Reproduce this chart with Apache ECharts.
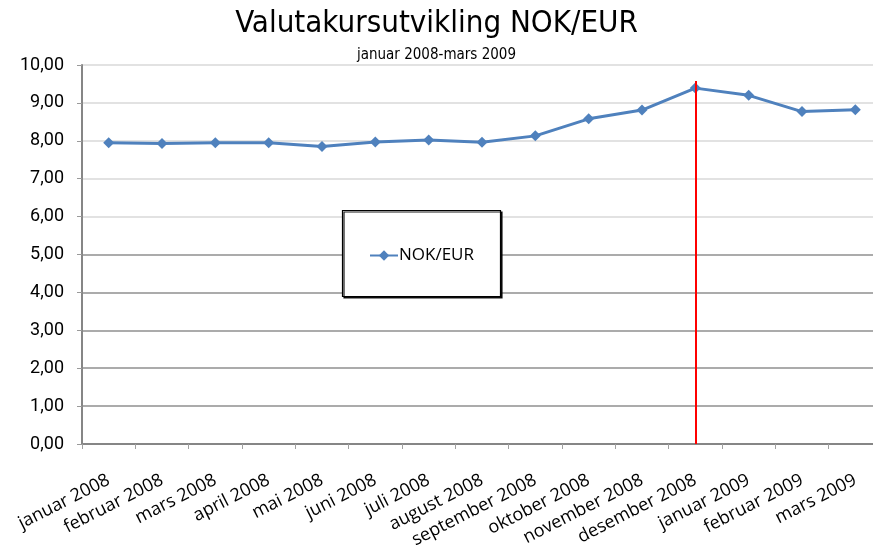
<!DOCTYPE html>
<html>
<head>
<meta charset="utf-8">
<script src="https://cdn.jsdelivr.net/npm/echarts@6/dist/echarts.min.js"></script>
<style>
  html, body { margin: 0; padding: 0; background: #ffffff; }
  #chart { width: 873px; height: 553px; }
</style>
</head>
<body>
<div id="chart"></div>
<script>
// Monthly NOK/EUR exchange rate, January 2008 – March 2009
const months = [
  'januar 2008', 'februar 2008', 'mars 2008', 'april 2008', 'mai 2008',
  'juni 2008', 'juli 2008', 'august 2008', 'september 2008', 'oktober 2008',
  'november 2008', 'desember 2008', 'januar 2009', 'februar 2009', 'mars 2009'
];
const nokEur = [
  7.95, 7.93, 7.95, 7.95, 7.85,
  7.97, 8.02, 7.96, 8.13, 8.58,
  8.81, 9.39, 9.20, 8.77, 8.82
];
const yTicks = [0, 1, 2, 3, 4, 5, 6, 7, 8, 9, 10];
// Vertical marker at the peak month
const markerMonth = 'desember 2008';
const markerTop = 9.58;

const seriesName = 'NOK/EUR';
const lineBlue = '#4F81BD';

// Lower gridlines are drawn darker than the upper ones
const gridColors = yTicks.map(v => (v <= 5 ? '#8f8f8f' : '#d9d9d9'));

const chart = echarts.init(document.getElementById('chart'));
chart.setOption({
  animation: false,
  backgroundColor: '#ffffff',
  title: [
    {
      text: 'Valutakursutvikling NOK/EUR',
      left: 'center',
      top: 8,
      padding: 0,
      textStyle: {
        fontFamily: "'DejaVu Sans Condensed', 'DejaVu Sans', sans-serif",
        fontSize: 31,
        fontWeight: 'normal',
        color: '#000000'
      }
    },
    {
      text: 'januar 2008-mars 2009',
      left: 'center',
      top: 48,
      padding: 0,
      textStyle: {
        fontFamily: "'DejaVu Sans Condensed', 'DejaVu Sans', sans-serif",
        fontSize: 15,
        fontWeight: 'normal',
        color: '#000000'
      }
    }
  ],
  grid: {
    left: 82,
    top: 65,
    width: 800,
    height: 379,
    containLabel: false,
    outerBoundsMode: 'none'
  },
  legend: {
    left: 364,
    top: 242,
    itemWidth: 28,
    itemHeight: 13,
    itemGap: 2,
    z: 10,
    textStyle: {
      fontFamily: "'Open Sans', sans-serif",
      fontSize: 17,
      color: '#000000',
      padding: [0, 0, 0, -4]
    },
    data: [{ name: seriesName }]
  },
  graphic: [
    {
      type: 'rect',
      z: 5,
      shape: { x: 342.5, y: 210.5, width: 158, height: 86 },
      style: {
        fill: '#ffffff',
        stroke: '#000000',
        lineWidth: 1.2,
        shadowColor: 'rgba(0,0,0,0.9)',
        shadowOffsetX: 1.5,
        shadowOffsetY: 1.5,
        shadowBlur: 0
      }
    }
  ],
  xAxis: {
    type: 'category',
    data: months,
    boundaryGap: true,
    axisLine: { show: true, lineStyle: { color: '#868686', width: 2 } },
    axisTick: { show: true, length: 5, lineStyle: { color: '#a0a0a0', width: 1 } },
    axisLabel: {
      rotate: 27,
      interval: 0,
      margin: 35,
      fontFamily: "'Open Sans', sans-serif",
      fontSize: 18,
      color: '#000000'
    },
    splitLine: { show: false }
  },
  yAxis: {
    type: 'value',
    min: 0,
    max: 10,
    interval: 1,
    axisLine: { show: true, lineStyle: { color: '#868686', width: 2 } },
    axisTick: { show: true, length: 5, lineStyle: { color: '#9a9a9a', width: 1 } },
    axisLabel: {
      margin: 18,
      fontFamily: "Roboto, sans-serif",
      fontSize: 18,
      color: '#000000',
      formatter: v => v.toFixed(2).replace('.', ',')
    },
    splitLine: { show: true, lineStyle: { color: gridColors, width: 1.5 } }
  },
  series: [
    {
      name: seriesName,
      type: 'line',
      data: nokEur,
      symbol: 'diamond',
      symbolSize: 11,
      z: 3,
      itemStyle: { color: lineBlue },
      lineStyle: { color: lineBlue, width: 3 },
      markLine: {
        silent: true,
        symbol: ['none', 'none'],
        label: { show: false },
        lineStyle: { color: '#ff0000', width: 2, type: 'solid' },
        data: [[
          { coord: [markerMonth, 0] },
          { coord: [markerMonth, markerTop] }
        ]]
      }
    }
  ]
});
</script>
</body>
</html>
